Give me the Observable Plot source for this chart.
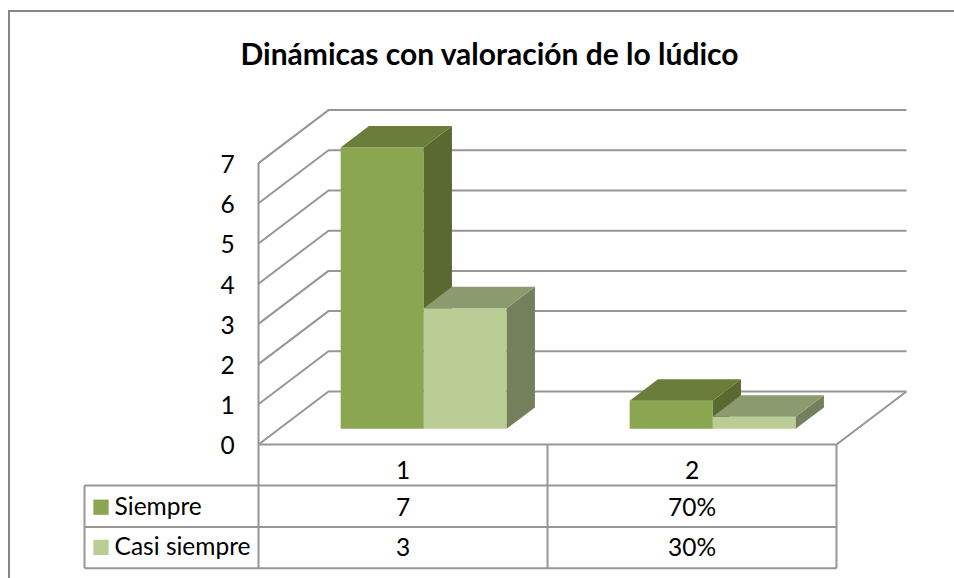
<!DOCTYPE html>
<html>
<head>
<meta charset="utf-8">
<script src="https://cdn.jsdelivr.net/npm/d3@7"></script>
<script src="https://cdn.jsdelivr.net/npm/@observablehq/plot@0.6"></script>
<style>
html,body{margin:0;padding:0;background:#fff;overflow:hidden}
#chart{position:relative;width:954px;height:578px}
#chart svg{display:block;background:transparent}
#frame{position:absolute;left:8px;top:10px;right:-4px;bottom:-4px;border:2px solid #868686}
</style>
</head>
<body>
<div id="chart"><div id="frame"></div></div>
<script>
const chartTitle = "Dinámicas con valoración de lo lúdico";
const categories = ["1", "2"];
const seriesNames = ["Siempre", "Casi siempre"];
const siempre = [7, 0.7];
const casiSiempre = [3, 0.3];
const siempreLabels = ["7", "70%"];
const casiLabels = ["3", "30%"];
const yTicks = [0, 1, 2, 3, 4, 5, 6, 7];
const frontColors = ["#8aa651", "#b9cd95"];
const sideColors = ["#59692f", "#74805c"];
const topColors = ["#6b7d3b", "#8c9a70"];
const gridColor = "#969696";
const font = "Lato, Carlito, sans-serif";

// oblique projection in data units: depth 0 (front) .. 1 (back wall)
const depthX = 70 / 289, depthY = 53 / 40.2;
const px = (c, d) => c + d * depthX;
const py = (v, d) => v + d * depthY;
const P = (c, v, d) => ({x: px(c, d), y: py(v, d)});

const barStart = 0.2126, barWidth = 0.2872, d0 = 0.296, d1 = 0.700;
const series = [siempre, casiSiempre];

const faces = [];
series.forEach((vals, s) => vals.forEach((v, i) => {
  const a = i + barStart + s * barWidth, b = a + barWidth;
  faces.push({fill: frontColors[s], pts: [P(a,0,d0), P(b,0,d0), P(b,v,d0), P(a,v,d0)]});
  faces.push({fill: sideColors[s], pts: [P(b,0,d0), P(b,0,d1), P(b,v,d1), P(b,v,d0)]});
  faces.push({fill: topColors[s], pts: [P(a,v,d0), P(b,v,d0), P(b,v,d1), P(a,v,d1)]});
}));

const grid = yTicks.map(t => [P(0,t,0), P(0,t,1), P(2,t,1)]);
const floor = [P(0,0,0), P(2,0,0), P(2,0,1)];
const wall = [P(0,0,0), P(0,7,0)];

// data-table rows, below the zero line, in the same units
const rowLines = [-1.02, -2.05, -3.08];
const rowText = [-0.64, -1.56, -2.56];
const legendLeft = -0.602;
const tableV = [
  [P(0,0,0), P(0,rowLines[2],0)],
  [P(1,0,0), P(1,rowLines[2],0)],
  [P(2,0,0), P(2,rowLines[2],0)],
  [P(legendLeft,rowLines[0],0), P(legendLeft,rowLines[2],0)]
];
const tableH = rowLines.map(r => [P(legendLeft,r,0), P(2,r,0)]);

const lineOpts = {x: "x", y: "y", stroke: gridColor, strokeWidth: 2, strokeLinecap: "butt", strokeLinejoin: "miter"};
const txt = {fontFamily: font, fontSize: 24.5, fill: "#000"};

const cellRows = [
  {row: 0, labels: categories},
  {row: 1, labels: siempreLabels},
  {row: 2, labels: casiLabels}
].flatMap(r => r.labels.map((l, i) => ({c: i + 0.5, r: rowText[r.row], l})));

const legendRows = seriesNames.map((n, i) => ({n, r: rowText[i + 1], color: frontColors[i]}));

const plot = Plot.plot({
  width: 954, height: 578, margin: 0,
  x: {domain: [0, 2], range: [258, 836], axis: null},
  y: {domain: [0, 7], range: [444, 162.6], axis: null},
  style: {background: "transparent"},
  marks: [
    ...grid.map(g => Plot.line(g, lineOpts)),
    Plot.line(wall, lineOpts),
    Plot.line(floor, lineOpts),
    ...tableV.map(g => Plot.line(g, lineOpts)),
    ...tableH.map(g => Plot.line(g, lineOpts)),
    ...faces.map(f => Plot.line(f.pts, {x: "x", y: "y", fill: f.fill, stroke: "none"})),
    Plot.text(yTicks, {x: -0.107, y: d => d, text: d => String(d), dy: 2, ...txt}),
    Plot.text(cellRows, {x: "c", y: "r", text: "l", dy: 1, ...txt}),
    Plot.text(legendRows, {x: -0.498, y: "r", text: "n", textAnchor: "start", dy: 0, ...txt}),
    Plot.dot(legendRows, {x: -0.545, y: "r", symbol: "square", r: 8.6, fill: "color", stroke: "none"}),
    Plot.text([chartTitle], {frameAnchor: "top-left", dx: 489, dy: 43, textAnchor: "middle", text: d => d,
      fontFamily: font, fontSize: 30, fontWeight: 700, fill: "#000"})
  ],
  color: {type: "identity"}
});
document.getElementById("chart").appendChild(plot);
</script>
</body>
</html>
